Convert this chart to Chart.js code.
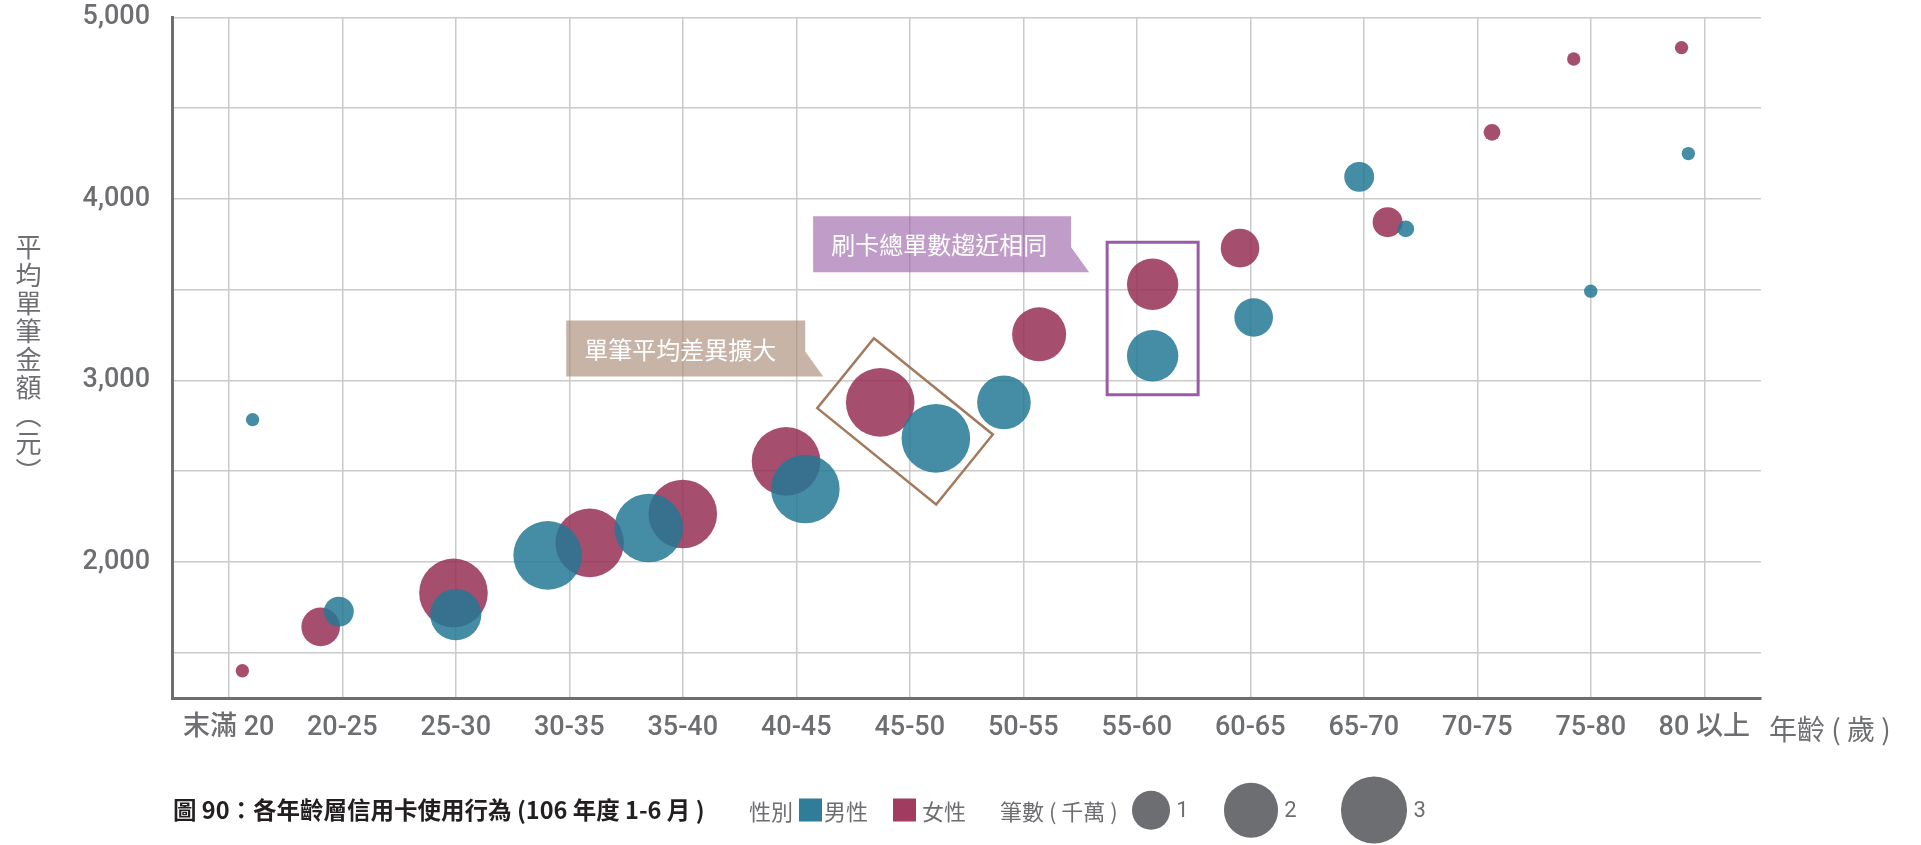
<!DOCTYPE html>
<html lang="zh-Hant">
<head>
<meta charset="utf-8">
<title>各年齡層信用卡使用行為</title>
<script src="https://cdn.jsdelivr.net/npm/chart.js@4.4.1/dist/chart.umd.min.js"></script>
<style>
  html, body { margin: 0; padding: 0; background: #fff; }
  body { width: 1921px; height: 845px; position: relative; overflow: hidden;
         font-family: Roboto, "Noto Sans CJK TC", sans-serif; color: #6d6e71; }
  #grafico { position: absolute; left: 0; top: 0; }
  .ytitle { position: absolute; left: 10px; top: 234px; writing-mode: vertical-rl;
            font-family: "Noto Sans CJK TC", sans-serif; font-size: 26px; letter-spacing: 2px; }
  .xtitle { position: absolute; left: 1769px; top: 728px; transform: translateY(-50%);
            font-family: "Noto Sans CJK TC", sans-serif; font-size: 28px; white-space: nowrap; }
  .ley { position: absolute; top: 810px; transform: translateY(-50%); white-space: nowrap;
         font-family: "Noto Sans CJK TC", sans-serif; font-size: 22px; line-height: 1; }
  .cap { color: #231f20; font-weight: bold; font-size: 23.5px; }
  .sw { width: 23px; height: 23px; }
  .circ { border-radius: 50%; background: #6d6e71; }
</style>
</head>
<body>
<canvas id="grafico" width="1921" height="845"></canvas>
<div class="ytitle">平均單筆金額（元）</div>
<div class="xtitle">年齡 ( 歲 )</div>
<div class="ley cap" style="left:173px">圖 90：各年齡層信用卡使用行為 (106 年度 1-6 月 )</div>
<div class="ley" style="left:749px">性別</div>
<div class="ley sw" style="left:799px;background:#307d9a"></div>
<div class="ley" style="left:824px">男性</div>
<div class="ley sw" style="left:893px;background:#a23b60"></div>
<div class="ley" style="left:922px">女性</div>
<div class="ley" style="left:1000px">筆數 ( 千萬 )</div>
<div id="leyendaBurbujas"></div>
<script>
// categorías del eje x (grupos de edad)
const ageGroups = ['末滿 20', '20-25', '25-30', '30-35', '35-40', '40-45', '45-50',
                   '50-55', '55-60', '60-65', '65-70', '70-75', '75-80', '80 以上'];
const yTicks = [1500, 2000, 2500, 3000, 3500, 4000, 4500, 5000];

// 男性: posición horizontal (en unidades de categoría), promedio por transacción (元),筆數 (千萬)
const maleX = [0.21, 0.97, 2.00, 2.81, 3.70, 5.08, 6.23, 6.83, 8.14, 9.03, 9.96, 10.37, 12.00, 12.86];
const maleAvg = [2784, 1726, 1710, 2036, 2187, 2402, 2681, 2879, 3136, 3347, 4122, 3835, 3492, 4250];
const maleCount = [0.12, 0.60, 1.76, 3.16, 3.16, 3.16, 3.16, 1.93, 1.77, 1.0, 0.60, 0.19, 0.12, 0.12];

// 女性
const femaleX = [0.12, 0.81, 1.98, 3.18, 4.00, 4.91, 5.74, 7.14, 8.14, 8.91, 10.21, 11.13, 11.85, 12.80];
const femaleAvg = [1400, 1642, 1829, 2105, 2264, 2554, 2879, 3254, 3530, 3729, 3872, 4367, 4771, 4834];
const femaleCount = [0.12, 1.0, 3.16, 3.16, 3.16, 3.16, 3.16, 1.96, 1.77, 1.0, 0.60, 0.19, 0.12, 0.12];

const legendCounts = [1, 2, 3];

const GRIS = '#6d6e71';
const radio = n => 19.3 * Math.sqrt(n); // área proporcional al número de transacciones

function puntos(xs, ys, ns) {
    return xs.map((x, i) => ({ x: x, y: ys[i], r: radio(ns[i]) }));
}

// leyenda de tamaños
const centrosLeyenda = [1151, 1251, 1374];
const contLeyenda = document.getElementById('leyendaBurbujas');
legendCounts.forEach((n, i) => {
    const r = radio(n);
    const c = document.createElement('div');
    c.className = 'ley circ';
    c.style.left = (centrosLeyenda[i] - r) + 'px';
    c.style.width = c.style.height = (2 * r) + 'px';
    contLeyenda.appendChild(c);
    const t = document.createElement('div');
    t.className = 'ley';
    t.style.left = (centrosLeyenda[i] + r + 6) + 'px';
    t.style.fontFamily = 'Roboto, sans-serif';
    t.innerText = n;
    contLeyenda.appendChild(t);
});

// anotaciones: marcos y globos de texto
function globo(ctx, tipX, tipY, ancho, color, texto) {
    const right = tipX - 18, top = tipY - 56, left = right - ancho;
    ctx.save();
    ctx.fillStyle = color;
    ctx.beginPath();
    ctx.moveTo(left, top);
    ctx.lineTo(right, top);
    ctx.lineTo(right, top + 31);
    ctx.lineTo(tipX, tipY);
    ctx.lineTo(left, tipY);
    ctx.closePath();
    ctx.fill();
    ctx.fillStyle = '#ffffff';
    ctx.font = '24px "Noto Sans CJK TC", sans-serif';
    ctx.textBaseline = 'middle';
    ctx.fillText(texto, left + 18, top + 29);
    ctx.restore();
}

const anotaciones = {
    id: 'anotaciones',
    afterDatasetsDraw(chart) {
        const { ctx, scales: { x, y } } = chart;

        // marco girado alrededor de 45-50
        const fx = x.getPixelForValue(femaleX[6]), fy = y.getPixelForValue(femaleAvg[6]);
        const mx = x.getPixelForValue(maleX[6]), my = y.getPixelForValue(maleAvg[6]);
        ctx.save();
        ctx.translate((fx + mx) / 2 - 3, (fy + my) / 2 + 1);
        ctx.rotate(39 * Math.PI / 180);
        ctx.strokeStyle = '#a27a5e';
        ctx.lineWidth = 2.5;
        ctx.strokeRect(-76.5, -45, 153, 90);
        ctx.restore();

        // marco alrededor de 55-60
        const px = x.getPixelForValue(femaleX[8]);
        const top = y.getPixelForValue(femaleAvg[8]) - 42;
        const bottom = y.getPixelForValue(maleAvg[8]) + 39;
        ctx.save();
        ctx.strokeStyle = '#9a5ba9';
        ctx.lineWidth = 3;
        ctx.strokeRect(px - 45.5, top, 91, bottom - top);
        ctx.restore();

        globo(ctx, fx - 57, fy - 26, 239, 'rgba(170, 140, 120, 0.65)', '單筆平均差異擴大');
        globo(ctx, px - 63.5, y.getPixelForValue(femaleAvg[8]) - 12, 258, 'rgba(150, 90, 165, 0.6)', '刷卡總單數趨近相同');
    }
};

const fuenteTicks = { family: 'Roboto, "Noto Sans CJK TC", sans-serif', size: 27, weight: '500' };

new Chart(document.getElementById('grafico').getContext('2d'), {
    type: 'bubble',
    data: {
        datasets: [
            {
                label: '男性',
                data: puntos(maleX, maleAvg, maleCount),
                backgroundColor: 'rgba(37, 120, 149, 0.85)',
                borderWidth: 0,
                hoverBorderWidth: 0
            },
            {
                label: '女性',
                data: puntos(femaleX, femaleAvg, femaleCount),
                backgroundColor: 'rgba(150, 47, 84, 0.85)',
                borderWidth: 0,
                hoverBorderWidth: 0
            }
        ]
    },
    options: {
        responsive: false,
        animation: false,
        devicePixelRatio: 1,
        events: [],
        layout: { autoPadding: false, padding: { top: 17.5, right: 160, left: 0, bottom: 0 } },
        plugins: {
            legend: { display: false },
            tooltip: { enabled: false }
        },
        scales: {
            x: {
                type: 'linear',
                min: -0.5,
                max: 13.5,
                afterBuildTicks: axis => { axis.ticks = ageGroups.map((_, i) => ({ value: i })); },
                afterFit: scale => { scale.height = 147; },
                grid: { color: '#cacaca', lineWidth: 1.5, drawTicks: false },
                border: { color: GRIS, width: 3 },
                ticks: {
                    padding: 14,
                    color: GRIS,
                    font: fuenteTicks,
                    maxRotation: 0,
                    autoSkip: false,
                    callback: v => ageGroups[v]
                }
            },
            y: {
                type: 'linear',
                min: 1250,
                max: 5000,
                afterBuildTicks: axis => { axis.ticks = yTicks.map(v => ({ value: v })); },
                afterFit: scale => { scale.width = 172; scale.paddingTop = 0; scale.paddingBottom = 0; },
                grid: { color: '#cacaca', lineWidth: 1.5, drawTicks: false },
                border: { color: GRIS, width: 3 },
                ticks: {
                    padding: 22,
                    color: GRIS,
                    font: fuenteTicks,
                    callback: v => (v % 1000 === 0 ? v.toLocaleString('en-US') : '')
                }
            }
        }
    },
    plugins: [anotaciones]
});
</script>
</body>
</html>
